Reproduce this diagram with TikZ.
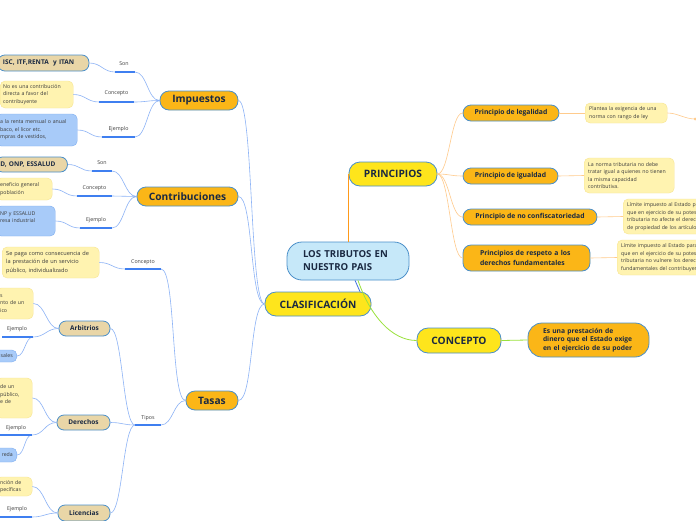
\documentclass[tikz,border=0pt]{standalone}
\usepackage{fontspec}
\setmainfont{Open Sans}
\usepackage{tikz}
\usepackage{xcolor}

\definecolor{edgeblue}{HTML}{4A8FC9}
\definecolor{rootfill}{HTML}{C6E8F9}
\definecolor{mainfill}{HTML}{FEE51C}
\definecolor{topicfill}{HTML}{FBB617}
\definecolor{tanfill}{HTML}{E9D6A7}
\definecolor{notefill}{HTML}{FFF3B0}
\definecolor{noteedge}{HTML}{F7E592}
\definecolor{exfill}{HTML}{A8CBF9}
\definecolor{exedge}{HTML}{7DADF0}
\definecolor{linkblue}{HTML}{8DB3F6}
\definecolor{barblue}{HTML}{3F7FF0}
\definecolor{linkorange}{HTML}{FFCB8C}
\definecolor{deeporange}{HTML}{FF9A1A}
\definecolor{linkgreen}{HTML}{9AE23C}
\definecolor{rootlink}{HTML}{3A6FE0}
\definecolor{navy}{HTML}{1A2942}
\definecolor{notetext}{HTML}{3B3B3B}

\tikzset{
  box/.style={draw=edgeblue, line width=0.8pt, text=navy, inner sep=0pt},
  rootbox/.style={box, fill=rootfill, rounded corners=15pt, minimum width=122pt,
    minimum height=38pt, inner xsep=16pt, text width=90pt, align=left,
    font=\fontsize{9.6}{13}\selectfont\bfseries},
  mainbox/.style={box, fill=mainfill, rounded corners=11pt, minimum height=24pt,
    font=\fontsize{10.2}{12}\selectfont\bfseries},
  branchbox/.style={box, fill=topicfill, rounded corners=9pt, minimum height=19pt,
    font=\fontsize{10.2}{12}\selectfont\bfseries},
  topicbox/.style={box, fill=topicfill, rounded corners=8pt, minimum height=16pt,
    font=\fontsize{6.8}{9.4}\selectfont\bfseries},
  subbox/.style={box, fill=tanfill, rounded corners=7pt, minimum height=15pt,
    font=\fontsize{6.5}{8}\selectfont\bfseries},
  notebox/.style={draw=noteedge, fill=notefill, rounded corners=5pt, text=notetext,
    inner xsep=4pt, inner ysep=2pt, align=left, font=\fontsize{5.2}{7.6}\selectfont},
  exbox/.style={draw=exedge, fill=exfill, rounded corners=5pt, text=notetext,
    inner xsep=4pt, inner ysep=2pt, align=left, font=\fontsize{5.2}{7.6}\selectfont},
  lbl/.style={text=notetext, inner sep=0pt, font=\fontsize{5.3}{6}\selectfont},
  link/.style={draw=linkblue, line width=0.6pt},
  olink/.style={draw=linkorange, line width=0.6pt},
  bar/.style={draw=barblue, line width=1.6pt},
  sweep/.style={out=0, in=180, out distance=#1, in distance=#1},
  sweep/.default=12pt
}

\begin{document}
\begin{tikzpicture}[x=1pt,y=-1pt]
\useasboundingbox (0,0) rectangle (696,520);
\clip (0,0) rectangle (696,520);
\fill[white] (0,0) rectangle (696,520);

% centre and main topics
\node[rootbox] (root) at (348,261) {LOS TRIBUTOS EN\\NUESTRO PAIS};
\node[mainbox, minimum width=88pt] (princ) at (393,174) {PRINCIPIOS};
\node[mainbox, minimum width=106pt] (clasif) at (318,304) {CLASIFICACIÓN};
\node[mainbox, minimum width=84pt, minimum height=25pt] (concept) at (459,340.5) {CONCEPTO};
\node[topicbox, rounded corners=14pt, minimum height=34pt, inner xsep=15pt, text width=91pt,
  align=left, font=\fontsize{6.7}{8.6}\selectfont\bfseries] (conceptdef) at (588.5,340)
  {Es una prestación de\\dinero que el Estado exige\\en el ejercicio de su poder};

% principios
\node[topicbox, minimum width=96pt] (legal) at (511,113) {Principio de legalidad};
\node[topicbox, minimum width=95pt] (igual) at (510.5,176) {Principio de igualdad};
\node[topicbox, minimum width=134pt] (confis) at (530,217) {Principio de no confiscatoriedad};
\node[topicbox, minimum height=26pt, inner xsep=17pt, text width=93pt, align=left] (respeto)
  at (526.5,258) {Principios de respeto a los\\derechos fundamentales};

\node[notebox, anchor=west, text width=74pt, minimum height=20pt] (nlegal) at (585,113)
  {Plantea la exigencia de una\\norma con rango de ley};
\node[notebox, anchor=west, text width=82pt, minimum height=35pt] (nigual) at (584,175.5)
  {La norma tributaria no debe\\tratar igual a quienes no tienen\\la misma capacidad\\contributiva.};
\node[notebox, anchor=west, text width=100pt, minimum height=35pt] (nconfis) at (623,216.5)
  {Límite impuesto al Estado para\\que en ejercicio de su potestad\\tributaria no afecte el derecho\\de propiedad de los artículos};
\node[notebox, anchor=west, text width=110pt, minimum height=35pt] (nrespeto) at (617,257.5)
  {Límite impuesto al Estado para\\que en el ejercicio de su potestad\\tributaria no vulnere los derechos\\fundamentales del contribuyente};
\coordinate (nlegalmore) at (695,119);

% clasificacion
\node[branchbox, minimum width=78pt] (imp) at (199,100.5) {Impuestos};
\node[branchbox, minimum width=101pt] (contr) at (187.5,196.5) {Contribuciones};
\node[branchbox, minimum width=52pt] (tasas) at (212,400.5) {Tasas};

% impuestos
\node[subbox, anchor=west, inner xsep=5pt, text width=81pt, align=left, minimum height=16pt] (isc)
  at (-2.5,63) {ISC, ITF,RENTA~ y ITAN};
\node[notebox, anchor=west, inner xsep=3pt, text width=67pt, minimum height=27pt] (impdef) at (0,94.5)
  {No es una contribución\\directa a favor del\\contribuyente};
\node[exbox, anchor=west, text width=73pt, minimum height=32pt] (impej) at (-4,130)
  {a la renta mensual o anual\\baco, el licor etc.\\mpras de vestidos,};
\coordinate (impsonA) at (115,72);  \coordinate (impsonB) at (135,72);
\coordinate (impconA) at (99,102);  \coordinate (impconB) at (134,102);
\coordinate (impejA) at (102,137);  \coordinate (impejB) at (135,137);
\node[lbl] (impsonlbl) at (124,64) {Son};
\node[lbl] (impconlbl) at (116.5,93) {Concepto};
\node[lbl] (impejlbl) at (118.5,129) {Ejemplo};

% contribuciones
\node[subbox, anchor=west, inner xsep=5pt, text width=62pt, align=left] (contrson)
  at (-5,164.5) {D, ONP, ESSALUD};
\node[notebox, anchor=west, text width=48pt, minimum height=22pt] (contrdef) at (-4,189)
  {eneficio general\\población};
\node[exbox, anchor=west, text width=51pt, minimum height=30pt] (contrej) at (-4,221)
  {NP y ESSALUD\\resa industrial\\\mbox{}};
\coordinate (csonA) at (92,171);  \coordinate (csonB) at (112,171);
\coordinate (cconA) at (77,196);  \coordinate (cconB) at (112,196);
\coordinate (cejA) at (80,228);   \coordinate (cejB) at (112,228);
\node[lbl] (csonlbl) at (102,163) {Son};
\node[lbl] (cconlbl) at (94.5,188) {Concepto};
\node[lbl] (cejlbl) at (96,220) {Ejemplo};

% tasas
\node[notebox, anchor=west, text width=89pt, minimum height=31pt,
  font=\fontsize{5.6}{8.6}\selectfont] (tasdef) at (2,262.5)
  {Se paga como consecuencia de\\la prestación de un servicio\\público, individualizado};
\coordinate (tconA) at (125,269);  \coordinate (tconB) at (161,269);
\coordinate (ttipA) at (135,425);  \coordinate (ttipB) at (161,425);
\node[lbl] (tconlbl) at (143,262) {Concepto};
\node[lbl] (ttiplbl) at (148,418) {Tipos};

\node[subbox, minimum width=51pt] (arb) at (84.5,328.5) {Arbitrios};
\node[subbox, minimum width=53pt] (der) at (83.5,422.5) {Derechos};
\node[subbox, minimum width=52pt, minimum height=16pt] (lic) at (84,513) {Licencias};

% arbitrios
\node[notebox, anchor=west, text width=29pt, minimum height=31pt] (arbdef) at (-4,303.5)
  {s\\nto de un\\ico};
\node[exbox, anchor=east, text width=30pt, align=right, minimum height=12pt] (arbex) at (17,356) {sales};
\coordinate (arbejA) at (2,337);  \coordinate (arbejB) at (33,337);
\node[lbl] (arbejlbl) at (17,329) {Ejemplo};

% derechos
\node[notebox, anchor=west, text width=28pt, minimum height=40pt] (derdef) at (-4,398)
  {de un\\público,\\e de\\\mbox{}};
\node[exbox, anchor=east, text width=30pt, align=right, minimum height=14pt] (derex) at (17,455) {reda};
\coordinate (derejA) at (0,435);  \coordinate (derejB) at (32,435);
\node[lbl] (derejlbl) at (16,428) {Ejemplo};

% licencias
\node[notebox, anchor=west, text width=28pt, minimum height=19pt] (licdef) at (-4,486.5)
  {nción de\\pecíficas};
\coordinate (licejA) at (0,517);  \coordinate (licejB) at (32,517);
\node[lbl] (licejlbl) at (17,509) {Ejemplo};

% connectors, centre
\draw[deeporange, line width=1.2pt] (root.north -| princ.west) -- (princ.west);
\draw[rootlink, line width=0.8pt] ([xshift=7pt]root.south) -- ([xshift=42pt]clasif.north);
\draw[linkgreen, line width=0.8pt] ([xshift=10pt]root.south) .. controls +(12,35) and +(-25,0) .. (concept.west);
\draw[linkgreen, line width=0.8pt] (concept.east) -- (conceptdef.west);

% connectors, principios
\draw[olink] (princ.east) to[sweep] (legal.west);
\draw[olink] (princ.east) to[sweep] (igual.west);
\draw[olink] (princ.east) to[sweep] (confis.west);
\draw[olink] (princ.east) to[sweep] (respeto.west);
\draw[olink] (legal.east) -- (nlegal.west);
\draw[olink] (igual.east) -- (nigual.west);
\draw[olink] (confis.east) -- (nconfis.west);
\draw[olink] (respeto.east) -- (nrespeto.west);
\draw[olink] (nlegal.east) to[sweep=10pt] (nlegalmore);
\fill[linkorange] (nlegalmore) circle (1.5pt);

% connectors, clasificacion
\draw[link] (imp.east) to[sweep=15pt] (clasif.west);
\draw[link] (contr.east) to[sweep=15pt] (clasif.west);
\draw[link] (tasas.east) to[sweep=15pt] (clasif.west);

\draw[link] (isc.east) to[sweep] (impsonA);
\draw[link] (impsonB) to[sweep] (imp.west);
\draw[link] (impdef.east) to[sweep] (impconA);
\draw[link] (impconB) to[sweep] (imp.west);
\draw[link] (impej.east) to[sweep] (impejA);
\draw[link] (impejB) to[sweep] (imp.west);
\draw[bar] (impsonA) -- (impsonB);
\draw[bar] (impconA) -- (impconB);
\draw[bar] (impejA) -- (impejB);

\draw[link] (contrson.east) to[sweep] (csonA);
\draw[link] (csonB) to[sweep] (contr.west);
\draw[link] (contrdef.east) to[sweep] (cconA);
\draw[link] (cconB) to[sweep] (contr.west);
\draw[link] (contrej.east) to[sweep] (cejA);
\draw[link] (cejB) to[sweep] (contr.west);
\draw[bar] (csonA) -- (csonB);
\draw[bar] (cconA) -- (cconB);
\draw[bar] (cejA) -- (cejB);

\draw[link] (tasdef.east) to[sweep] (tconA);
\draw[link] (tconB) to[sweep=15pt] (tasas.west);
\draw[link] (ttipB) to[sweep] (tasas.west);
\draw[link] (arb.east) to[sweep] (ttipA);
\draw[link] (der.east) to[sweep] (ttipA);
\draw[link] (lic.east) to[sweep] (ttipA);
\draw[bar] (tconA) -- (tconB);
\draw[bar] (ttipA) -- (ttipB);

\draw[link] (arbdef.east) to[sweep] (arb.west);
\draw[link] (arbejB) to[sweep] (arb.west);
\draw[link] (arbex.east) to[sweep=8pt] (arbejB);
\draw[bar] (arbejA) -- (arbejB);

\draw[link] (derdef.east) to[sweep] (der.west);
\draw[link] (derejB) to[sweep] (der.west);
\draw[link] (derex.east) to[sweep=8pt] (derejB);
\draw[bar] (derejA) -- (derejB);

\draw[link] (licdef.east) to[sweep] (lic.west);
\draw[link] (licejB) to[sweep] (lic.west);
\draw[bar] (licejA) -- (licejB);
\end{tikzpicture}
\end{document}
